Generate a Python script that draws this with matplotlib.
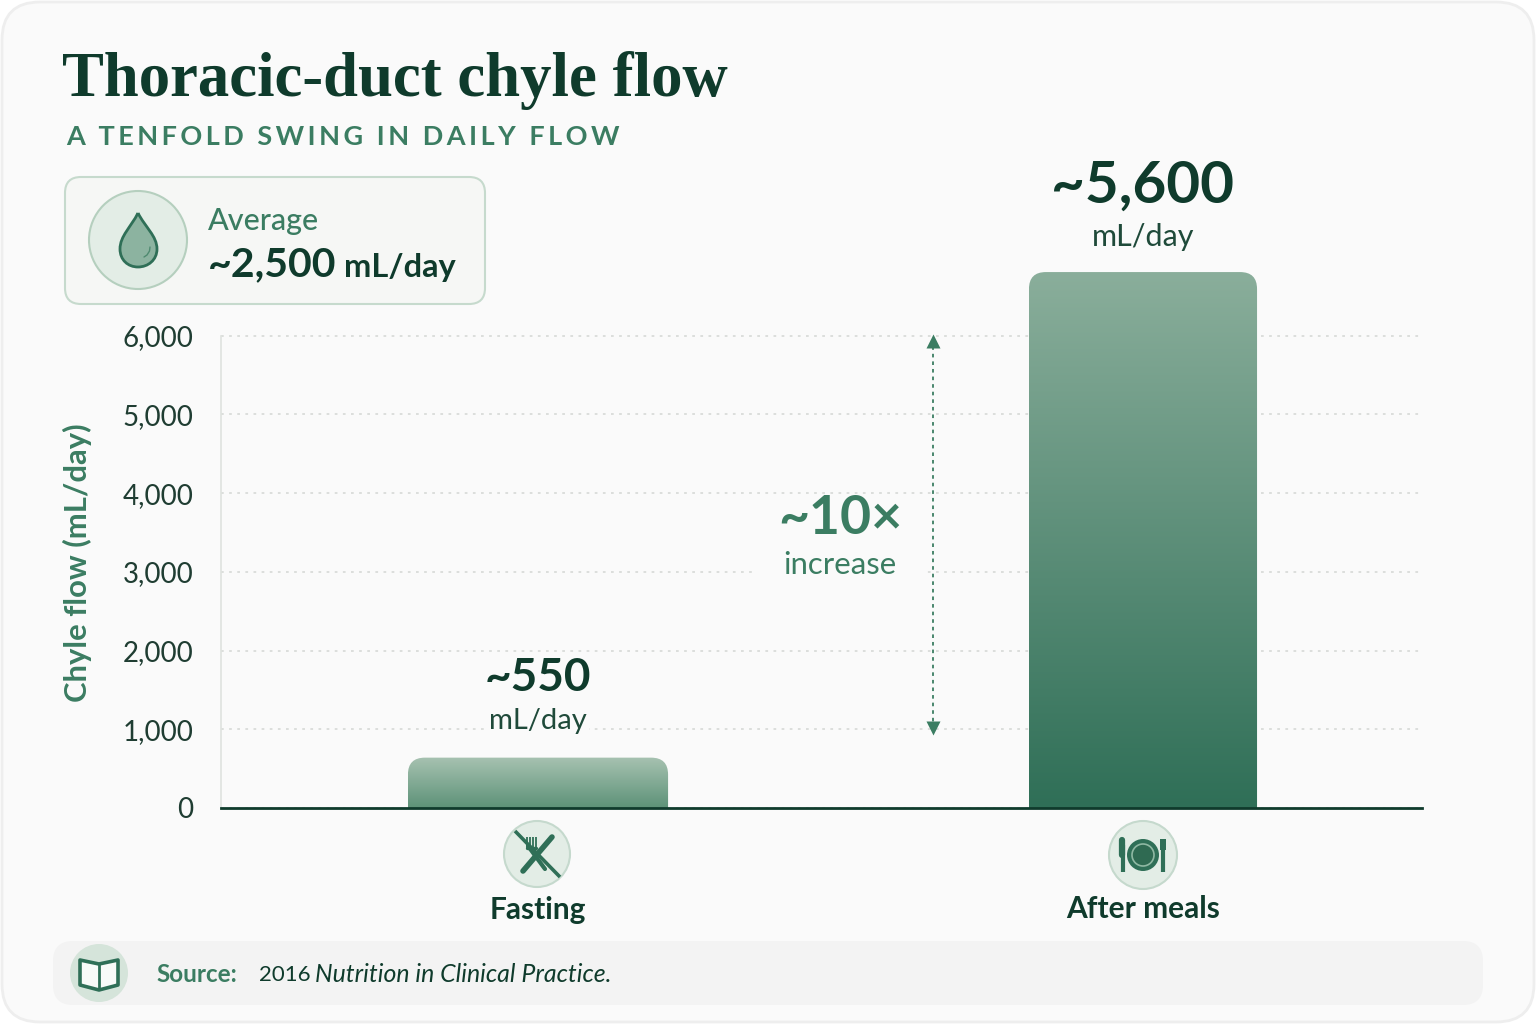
import numpy as np
import matplotlib
matplotlib.use("Agg")
import matplotlib.pyplot as plt
from matplotlib.patches import FancyBboxPatch, Circle, PathPatch, Polygon
from matplotlib.path import Path
from matplotlib.colors import LinearSegmentedColormap

plt.rcParams['font.family'] = ['Lato', 'DejaVu Sans']

# data
categories = ['Fasting', 'After meals']
bar_heights = [640, 6810]   # as drawn against the printed axis
bar_widths = [0.43, 0.377]
value_labels = ['~550', '~5,600']
y_ticks = [0, 1000, 2000, 3000, 4000, 5000, 6000]
y_tick_labels = ['0', '1,000', '2,000', '3,000', '4,000', '5,000', '6,000']
span_low, span_high = 1000, 6000

# colours
DARK = '#0f3b2c'
GREEN = '#3b7d62'
MID = '#2f6f57'
PALE = '#e3ede6'
EDGE = '#b5cfbe'

fig = plt.figure(figsize=(15.36, 10.24), dpi=100, facecolor='white')

# page layer in pixel coordinates, for cards and icons
bg = fig.add_axes([0, 0, 1, 1], zorder=0)
bg.set_xlim(0, 1536)
bg.set_ylim(1024, 0)
bg.axis('off')


def card(x0, y0, x1, y1, r, fc, ec, lw=1.5):
    bg.add_patch(FancyBboxPatch((x0, y0), x1 - x0, y1 - y0,
                                boxstyle=f'round,pad=0,rounding_size={r}',
                                fc=fc, ec=ec, lw=lw))


def px_line(xs, ys, lw, color=MID, cap='round'):
    bg.plot(xs, ys, color=color, lw=lw, solid_capstyle=cap)


card(2, 2, 1534, 1022, 38, '#fafafa', '#eeeeee', 2)
card(65, 177, 485, 304, 16, '#f6f7f5', '#c6dacd')
card(53, 941, 1483, 1005, 20, '#f3f3f3', 'none', 0)

# drop icon
bg.add_patch(Circle((138, 240), 49, fc=PALE, ec=EDGE, lw=1.5))
drop = Path([(138, 213), (131, 227), (120, 236), (120, 249),
             (120, 260), (128, 267), (138, 267),
             (148, 267), (157, 260), (157, 249),
             (157, 236), (145, 227), (138, 213)],
            [Path.MOVETO] + [Path.CURVE4] * 12)
bg.add_patch(PathPatch(drop, fc='#8cb3a0', ec=MID, lw=2))
px_line([150, 149.5, 147, 144], [247, 251, 255, 257], 1, color='#4f8a70')

# fasting icon
bg.add_patch(Circle((537, 854), 33, fc=PALE, ec='#c5d9cd', lw=1.5))
px_line([523, 552], [871, 837], 4)                # knife
px_line([528, 545], [846, 869], 3)                # fork stem
for fx in [527, 530, 533, 536]:
    px_line([fx, fx], [837, 848], 1.3, cap='butt')
px_line([527, 536], [848, 848], 2.4)
px_line([515, 560], [831, 877], 2.6, cap='butt')  # strike

# meal icon
bg.add_patch(Circle((1143, 855), 34, fc=PALE, ec='#c5d9cd', lw=1.5))
bg.add_patch(Circle((1143, 855), 16, fc=MID, ec='none'))
bg.add_patch(Circle((1143, 855), 11, fc='#2f6a52', ec='#8fb8a3', lw=1.2))
px_line([1123, 1123], [845, 872], 3, cap='butt')
px_line([1122, 1122], [840, 855], 4.5)
px_line([1163, 1163], [850, 872], 3, cap='butt')
bg.add_patch(Polygon([(1160, 839), (1166, 839), (1166, 850), (1160, 850)], fc=MID, ec='none'))

# book icon
bg.add_patch(Circle((99, 973), 29, fc='#d5e4da', ec='none'))
bg.add_patch(Polygon([(80, 960), (99, 964), (118, 960), (118, 985), (99, 990), (80, 985)],
                     fc='#f8faf8', ec=MID, lw=2.6, joinstyle='round'))
px_line([99, 99], [964, 989], 2, cap='butt')

# chart
left, right, zero_y, unit = 221, 1422, 808, 0.0787
top_px = zero_y - 7000 * unit
ax = fig.add_axes([left / 1536, (1024 - zero_y) / 1024,
                   (right - left) / 1536, (zero_y - top_px) / 1024], zorder=1)
ax.patch.set_alpha(0)
x_left = -(538 - left) / 605
x_right = 1 + (right - 1143) / 605

xpos = np.arange(len(categories))
ramps = [('#a7c2b1', '#5d9278'), ('#8aae9b', '#2f6f57')]
rects = ax.bar(xpos, bar_heights, width=bar_widths, color='none', zorder=3)
aspect = 605 / unit
for rect, ramp in zip(rects, ramps):
    x0, w, h = rect.get_x(), rect.get_width(), rect.get_height()
    cmap = LinearSegmentedColormap.from_list('bar', ramp)
    im = ax.imshow(np.linspace(1, 0, 256).reshape(-1, 1), cmap=cmap, aspect='auto',
                   extent=(x0, x0 + w, 0, h), origin='lower', zorder=3)
    # square bottom: the rounded outline runs on below the baseline
    clip = FancyBboxPatch((x0, -400), w, h + 400,
                          boxstyle='round,pad=0,rounding_size=0.028',
                          mutation_aspect=aspect, fc='none', ec='none',
                          transform=ax.transData)
    ax.add_patch(clip)
    im.set_clip_path(clip)

ax.set_xlim(x_left, x_right)
ax.set_ylim(0, 7000)
ax.set_yticks(y_ticks, y_tick_labels)
ax.set_xticks(xpos, categories)
ax.tick_params(axis='y', length=0, pad=20, labelsize=20, labelcolor='#1f3d32')
ax.tick_params(axis='x', length=0, pad=63, labelsize=21.5, labelcolor=DARK)
for lab in ax.get_xticklabels():
    lab.set_fontweight('bold')
ax.grid(axis='y', color='#d9dcd9', lw=1.3, linestyle=(0, (1.5, 3)), zorder=1)
ax.set_axisbelow(True)
for s in ['top', 'right']:
    ax.spines[s].set_visible(False)
ax.spines['left'].set_bounds(0, 6000)
ax.spines['left'].set_color('#dfe3df')
ax.spines['left'].set_linewidth(1.2)
ax.spines['bottom'].set_color(DARK)
ax.spines['bottom'].set_linewidth(2)
ax.spines['bottom'].set_zorder(5)
ax.set_ylabel('Chyle flow (mL/day)', fontsize=22.3, fontweight='bold', color=GREEN)
ax.yaxis.set_label_coords((92 - left) / (right - left), (808 - 563) / (808 - top_px))

# value labels, placed by page pixel
to_y = lambda py: (zero_y - py) / unit
halo = dict(fc='#fafafa', ec='none', pad=1.5)
ax.text(0, to_y(678), value_labels[0], ha='center', va='center', fontsize=33, fontweight='bold', color=DARK)
ax.text(0, to_y(721), 'mL/day', ha='center', va='center', fontsize=21, color='#1f4a3a', bbox=halo)
ax.text(1, to_y(186), value_labels[1], ha='center', va='center', fontsize=42, fontweight='bold', color=DARK, clip_on=False)
ax.text(1, to_y(237), 'mL/day', ha='center', va='center', fontsize=22, color='#1f4a3a')

# tenfold span
span_x = (933 - 538) / 605
ax.plot([span_x, span_x], [span_low, span_high], color=GREEN, lw=1.3, linestyle=(0, (2, 2.2)), zorder=4)
ax.plot([span_x], [span_high - 60], marker='^', ms=10, color=GREEN, mec='none', zorder=4)
ax.plot([span_x], [span_low + 20], marker='v', ms=10, color=GREEN, mec='none', zorder=4)
mid_x = (840 - 538) / 605
ax.text(mid_x, to_y(565), 'increase', ha='center', va='center', fontsize=22.4, color=GREEN, zorder=4,
        bbox=dict(fc='#fafafa', ec='none', pad=20))
ax.text(mid_x, to_y(518), '~10×', ha='center', va='center', fontsize=38.5, fontweight='bold', color=GREEN, zorder=5)


# page text
def page_text(x, y, s, **kw):
    return bg.text(x, y, s, va='center', **kw)


page_text(62, 80, 'Thoracic-duct chyle flow', fontsize=45.2, fontweight='bold',
          family=['Liberation Serif', 'DejaVu Serif'], color=DARK)
page_text(66, 137, '\u200a\u200a'.join('A TENFOLD SWING IN DAILY FLOW'), fontsize=19.5,
          fontweight='bold', color=GREEN)
page_text(208, 221, 'Average', fontsize=22, fontweight='medium', color=GREEN)
page_text(208, 265, '~2,500', fontsize=29.5, fontweight='bold', color=DARK)
page_text(344, 267, 'mL/day', fontsize=23.5, fontweight='bold', color=DARK)
page_text(156, 975, 'Source:', fontsize=17.5, fontweight='bold', color=GREEN)
page_text(259, 975, '2016', fontsize=16, color=DARK)
page_text(315, 975, 'Nutrition in Clinical Practice.', fontsize=17.9, style='italic', color=DARK)

fig.savefig('out.png', dpi=100)
